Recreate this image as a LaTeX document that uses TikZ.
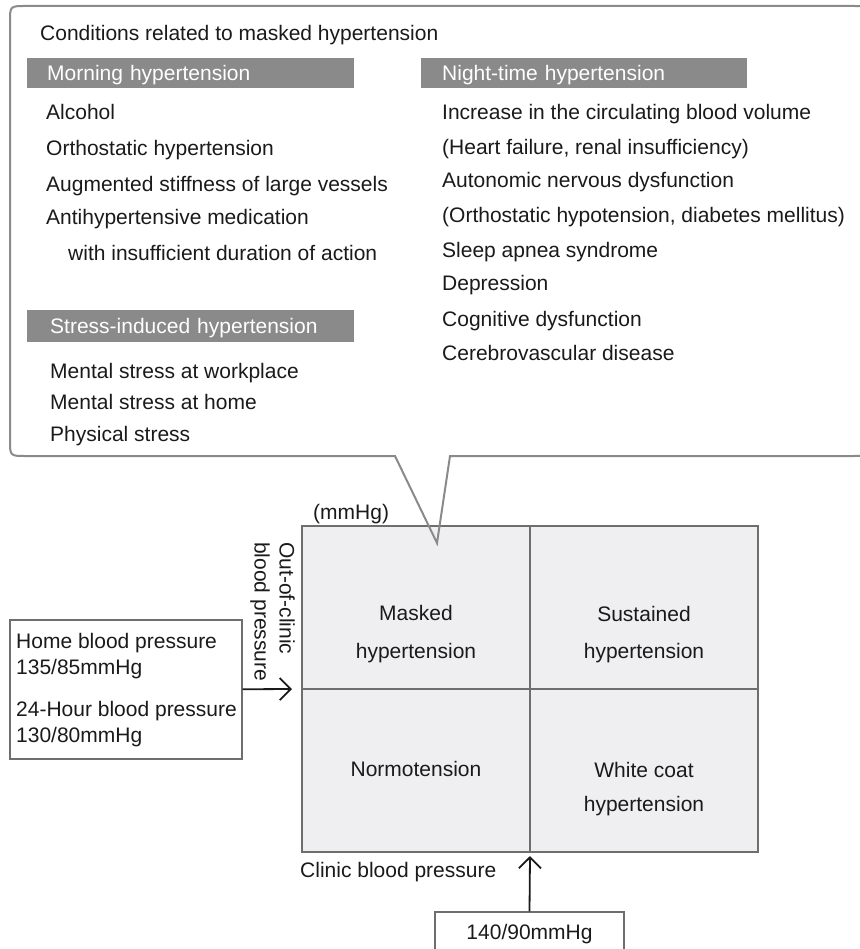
\documentclass[tikz,border=0pt]{standalone}
\usepackage{fontspec}
\setmainfont{Liberation Sans}
\usetikzlibrary{arrows.meta}
\definecolor{txt}{HTML}{1A1A1A}
\definecolor{bar}{HTML}{8A8A8A}
\definecolor{frame}{HTML}{8A8A8A}
\definecolor{cell}{HTML}{EFEFF1}
\definecolor{gridline}{HTML}{6E6E6E}
\begin{document}
\begin{tikzpicture}[x=1pt,y=-1pt,
  every node/.style={font=\fontsize{21}{25}\selectfont, text=txt, inner sep=0pt, text height=15pt, text depth=0pt},
  item/.style={anchor=west},
  cellnode/.style={anchor=center},
  hdr/.style={anchor=west, fill=bar, text=white, minimum height=30pt, align=left},
  box/.style={draw=gridline, line width=1.5pt},
  arr/.style={draw=txt, line width=1.8pt, -{Straight Barb[length=11pt,width=22pt,line width=1.8pt]}}]
\useasboundingbox (0,0) rectangle (859,949);

% quadrant grid
\node[box, fill=cell, line width=2pt, minimum width=456pt, minimum height=326pt, text height=, text depth=] (grid) at (530,689) {};
\draw[gridline, line width=2pt] (grid.north) -- (grid.south);
\draw[gridline, line width=2pt] (grid.west) -- (grid.east);

% callout
\draw[frame, line width=2pt, line join=miter]
  (395,456) -- (26,456) .. controls (10,456) .. (10,440) -- (10,22)
  .. controls (10,6) .. (26,6) -- (852,6) .. controls (868,6) .. (868,22)
  -- (868,440) .. controls (868,456) .. (852,456) -- (450,456) -- (437,543) -- cycle;

\node[item] (title) at (40,33) {Conditions related to masked hypertension};

\node[hdr, inner xsep=20pt, text width=287pt] (mh) at (27,73) {Morning hypertension};
\node[hdr, inner xsep=21pt, text width=284pt] (nh) at (421,73) {Night-time hypertension};
\node[hdr, inner xsep=23pt, text width=281pt, minimum height=32pt] (sh) at (27,326) {Stress-induced hypertension};

\node[item] (m1) at (46,112) {Alcohol};
\node[item] (m2) at (46,148) {Orthostatic hypertension};
\node[item] (m3) at (46,184) {Augmented stiffness of large vessels};
\node[item] (m4) at (46,217) {Antihypertensive medication};
\node[item] (m5) at (68,253) {with insufficient duration of action};

\node[item] (s1) at (50,371) {Mental stress at workplace};
\node[item] (s2) at (50,402) {Mental stress at home};
\node[item] (s3) at (50,434) {Physical stress};

\node[item] (n1) at (442,112) {Increase in the circulating blood volume};
\node[item] (n2) at (442,147) {(Heart failure, renal insufficiency)};
\node[item] (n3) at (442,180) {Autonomic nervous dysfunction};
\node[item] (n4) at (442,215) {(Orthostatic hypotension, diabetes mellitus)};
\node[item] (n5) at (442,250) {Sleep apnea syndrome};
\node[item] (n6) at (442,283) {Depression};
\node[item] (n7) at (442,319) {Cognitive dysfunction};
\node[item] (n8) at (442,353) {Cerebrovascular disease};

% axis labels
\node[item] (unit) at (313,512) {(mmHg)};
\node[rotate=-90, anchor=west] (ocl1) at (287,542) {Out-of-clinic};
\node[rotate=-90, anchor=west] (ocl2) at (262,542) {blood pressure};
\node[item] (cbp) at (300,870) {Clinic blood pressure};

% cell labels
\node[cellnode] (c1a) at (416,613) {Masked};
\node[cellnode] (c1b) at (416,651) {hypertension};
\node[cellnode] (c2a) at (644,614) {Sustained};
\node[cellnode] (c2b) at (644,651) {hypertension};
\node[cellnode] (c3) at (416,769) {Normotension};
\node[cellnode] (c4a) at (644,770) {White coat};
\node[cellnode] (c4b) at (644,804) {hypertension};

% left threshold box
\node[box, anchor=north west, minimum width=232pt, minimum height=139pt, text height=, text depth=] (hbox) at (9,619) {};
\node[item] (h1) at (16,641) {Home blood pressure};
\node[item] (h2) at (16,667) {135/85mmHg};
\node[item] (h3) at (16,709) {24-Hour blood pressure};
\node[item] (h4) at (16,735) {130/80mmHg};

% bottom threshold box
\node[box, minimum width=189pt, minimum height=40pt] (cbox) at (529.5,932) {140/90mmHg};

% arrows
\draw[arr] (hbox.east) -- ([xshift=-9pt]grid.west);
\draw[arr] (cbox.north) -- ([yshift=-3pt]grid.south);
\end{tikzpicture}
\end{document}
